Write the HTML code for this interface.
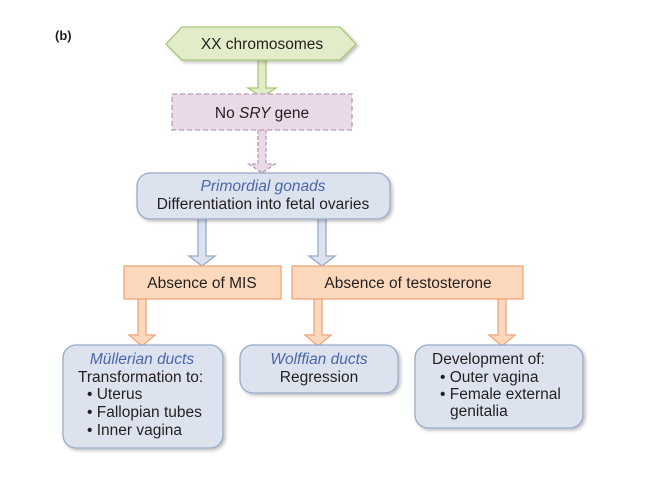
<!DOCTYPE html>
<html><head><meta charset="utf-8"><style>
html,body{margin:0;padding:0;background:#fff;}
svg{display:block;}
text{font-family:"Liberation Sans",Arial,sans-serif;font-size:15.5px;fill:#231f20;}
.t{text-anchor:middle;}
.i{font-style:italic;fill:#4a66a8;}
</style></head><body>
<svg width="649" height="488" viewBox="0 0 649 488" xmlns="http://www.w3.org/2000/svg">
<defs>
<filter id="sh" x="-10%" y="-10%" width="130%" height="140%"><feDropShadow dx="2" dy="2" stdDeviation="1.5" flood-color="#000" flood-opacity="0.25"/></filter>
</defs>
<text x="55" y="40" style="font-weight:bold;font-size:13px">(b)</text>

<path d="M258 60 V88 H248 L262 97 L276 88 H266 V60 Z" fill="#e3ecc9" stroke="#a9c775" stroke-width="1.3"/>
<path d="M258 130 V164 H249 L262 173 L275 164 H266 V130" fill="#ead9e7" stroke="#bb9ab6" stroke-width="1.3" stroke-dasharray="4,2"/>
<path d="M198 219 V256 H189 L202 266 L215 256 H206 V219 Z" fill="#dce3ef" stroke="#98aac8" stroke-width="1.3"/>
<path d="M318 219 V256 H309 L322 266 L335 256 H326 V219 Z" fill="#dce3ef" stroke="#98aac8" stroke-width="1.3"/>
<path d="M138 299 V335 H129 L142 346 L155 335 H146 V299 Z" fill="#fcd9bd" stroke="#f0a57a" stroke-width="1.3"/>
<path d="M314 299 V335 H305 L318 346 L331 335 H322 V299 Z" fill="#fcd9bd" stroke="#f0a57a" stroke-width="1.3"/>
<path d="M498 299 V335 H489 L502 346 L515 335 H506 V299 Z" fill="#fcd9bd" stroke="#f0a57a" stroke-width="1.3"/>

<path d="M182 27 H340 L356 44 L340 60 H182 L166 44 Z" fill="#e3ecc9" stroke="#a9c775" stroke-width="1.3" filter="url(#sh)"/>
<text class="t" x="262" y="49">XX chromosomes</text>

<rect x="172" y="94" width="180" height="36" fill="#ead9e7" stroke="#bb9ab6" stroke-width="1.3" stroke-dasharray="5,3"/>
<text class="t" x="262" y="118">No <tspan font-style="italic">SRY</tspan> gene</text>

<rect x="137" y="173" width="253" height="46" rx="13" fill="#dce3ef" stroke="#98aac8" stroke-width="1.3" filter="url(#sh)"/>
<text class="t i" x="263" y="191">Primordial gonads</text>
<text class="t" x="263" y="209">Differentiation into fetal ovaries</text>

<rect x="124" y="266" width="157" height="33" fill="#fcd9bd" stroke="#f0a57a" stroke-width="1.3"/>
<text class="t" x="202" y="288">Absence of MIS</text>
<rect x="292" y="266" width="231" height="33" fill="#fcd9bd" stroke="#f0a57a" stroke-width="1.3"/>
<text class="t" x="408" y="288">Absence of testosterone</text>

<rect x="63" y="345" width="160" height="103" rx="13" fill="#dce3ef" stroke="#98aac8" stroke-width="1.3" filter="url(#sh)"/>
<text class="t i" x="142" y="364">Müllerian ducts</text>
<text x="78" y="382">Transformation to:</text>
<text x="87" y="399">• Uterus</text>
<text x="87" y="417">• Fallopian tubes</text>
<text x="87" y="435">• Inner vagina</text>

<rect x="240" y="345" width="158" height="48" rx="13" fill="#dce3ef" stroke="#98aac8" stroke-width="1.3" filter="url(#sh)"/>
<text class="t i" x="319" y="364">Wolffian ducts</text>
<text class="t" x="319" y="382">Regression</text>

<rect x="415" y="345" width="168" height="83" rx="13" fill="#dce3ef" stroke="#98aac8" stroke-width="1.3" filter="url(#sh)"/>
<text x="432" y="364">Development of:</text>
<text x="440" y="382">• Outer vagina</text>
<text x="440" y="399">• Female external</text>
<text x="450" y="416">genitalia</text>
</svg>
</body></html>
